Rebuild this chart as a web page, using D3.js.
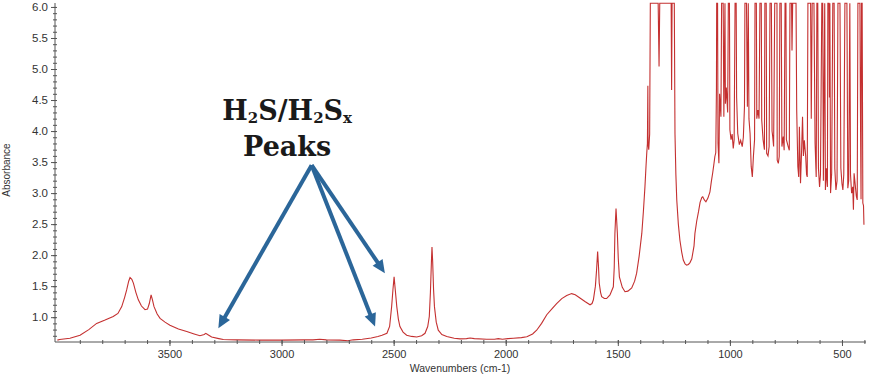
<!DOCTYPE html>
<html>
<head>
<meta charset="utf-8">
<script src="https://cdn.jsdelivr.net/npm/d3@7"></script>
<style>
  html, body { margin: 0; padding: 0; background: #fff; }
  svg { display: block; }
</style>
</head>
<body>
<svg id="chart" width="878" height="376"></svg>
<script>
// ---- data ----
const wavenumbers = [
  4000, 3990, 3944, 3899, 3860, 3825, 3790, 3751, 3730, 3713, 3700, 3691, 3682, 3676, 3668, 3661,
  3650, 3639, 3625, 3609, 3598, 3590, 3582, 3576, 3569, 3555, 3542, 3520, 3498, 3460, 3423, 3390,
  3364, 3345, 3338, 3330, 3312, 3280, 3260, 3200, 3100, 3000, 2900, 2860, 2830, 2800, 2740, 2704,
  2680, 2640, 2600, 2570, 2552, 2530, 2518, 2509, 2503, 2498, 2493, 2486, 2479, 2472, 2458, 2442,
  2420, 2397, 2375, 2360, 2348, 2341, 2336, 2331, 2329, 2326, 2322, 2318, 2310, 2301, 2285, 2263,
  2230, 2204, 2175, 2159, 2140, 2085, 2050, 2033, 2015, 1990, 1966, 1930, 1906, 1880, 1862, 1840,
  1817, 1795, 1773, 1750, 1728, 1706, 1690, 1669, 1645, 1624, 1615, 1609, 1600, 1595, 1590, 1586,
  1583, 1577, 1572, 1560, 1550, 1535, 1520, 1516, 1513, 1510, 1508, 1505, 1502, 1498, 1493, 1480,
  1468, 1455, 1438, 1425, 1416, 1405, 1393, 1386, 1379, 1374, 1371, 1368, 1366, 1365, 1362, 1358,
  1355, 1349, 1320, 1316, 1313, 1262, 1260, 1258, 1248, 1245, 1241, 1237, 1230, 1223, 1215, 1208,
  1200, 1193, 1185, 1178, 1170, 1160, 1156, 1148, 1140, 1133, 1125, 1121, 1114, 1107, 1098, 1089,
  1083, 1077, 1072, 1067, 1063, 1060, 1059, 1055, 1053, 1049, 1046, 1040, 1037, 1030, 1027, 1022,
  1020, 1016, 1010, 1007, 1002, 1000, 995, 990, 985, 981, 977, 972, 970, 965, 958, 952,
  945, 940, 935, 933, 926, 922, 918, 915, 910, 905, 900, 895, 890, 888, 882, 880,
  875, 870, 866, 860, 858, 852, 846, 844, 838, 836, 830, 825, 821, 815, 812, 809,
  805, 800, 790, 789, 784, 780, 777, 771, 768, 762, 758, 754, 750, 748, 740, 735,
  732, 725, 723, 720, 705, 702, 697, 693, 690, 685, 680, 676, 672, 668, 662, 658,
  655, 652, 640, 637, 633, 625, 620, 615, 612, 608, 605, 600, 596, 590, 586, 583,
  577, 574, 570, 565, 563, 558, 556, 554, 551, 546, 541, 535, 532, 527, 522, 518,
  509, 505, 500, 496, 492, 487, 478, 474, 470, 465, 462, 457, 452, 449, 446, 440,
  436, 432, 429, 420, 418, 415, 413, 410, 407, 404, 402
];
const absorbance = [
  0.63, 0.64, 0.66, 0.71, 0.80, 0.90, 0.95, 1.01, 1.06, 1.17, 1.32, 1.44, 1.58, 1.64, 1.61, 1.55,
  1.40, 1.28, 1.18, 1.12, 1.13, 1.22, 1.36, 1.28, 1.17, 1.05, 0.98, 0.92, 0.87, 0.81, 0.77, 0.73,
  0.70, 0.72, 0.74, 0.72, 0.68, 0.655, 0.64, 0.635, 0.63, 0.63, 0.635, 0.635, 0.645, 0.635, 0.63, 0.62,
  0.635, 0.645, 0.665, 0.69, 0.71, 0.74, 0.85, 1.17, 1.45, 1.65, 1.45, 1.17, 0.97, 0.85, 0.76, 0.71,
  0.69, 0.68, 0.70, 0.74, 0.85, 1.01, 1.40, 1.95, 2.13, 1.90, 1.45, 1.17, 0.92, 0.79, 0.72, 0.69,
  0.66, 0.65, 0.655, 0.665, 0.655, 0.645, 0.645, 0.655, 0.645, 0.655, 0.66, 0.67, 0.685, 0.73, 0.79, 0.90,
  1.04, 1.13, 1.22, 1.30, 1.35, 1.38, 1.36, 1.31, 1.25, 1.20, 1.22, 1.28, 1.50, 1.75, 2.06, 1.80,
  1.55, 1.40, 1.33, 1.30, 1.30, 1.36, 1.49, 1.80, 2.35, 2.60, 2.75, 2.55, 2.35, 1.95, 1.65, 1.48,
  1.41, 1.42, 1.47, 1.58, 1.71, 1.98, 2.35, 2.70, 3.10, 3.45, 3.64, 3.80, 4.73, 3.80, 3.70, 3.95,
  6.06, 6.06, 6.06, 5.04, 6.06, 6.06, 4.66, 6.06, 6.06, 3.96, 3.30, 2.89, 2.50, 2.24, 2.05, 1.92,
  1.86, 1.84, 1.85, 1.88, 1.94, 2.15, 2.35, 2.55, 2.70, 2.85, 2.93, 2.94, 2.89, 2.86, 2.92, 3.02,
  3.18, 3.32, 3.45, 3.59, 3.65, 4.70, 6.06, 6.06, 3.80, 3.48, 4.60, 4.23, 6.06, 6.06, 4.23, 6.06,
  4.44, 4.70, 4.30, 6.06, 6.06, 4.02, 3.86, 3.95, 3.72, 3.86, 6.06, 6.06, 4.54, 3.96, 3.78, 3.85,
  3.75, 3.90, 4.39, 6.06, 6.06, 4.39, 6.06, 4.20, 3.96, 3.43, 3.26, 3.60, 3.86, 6.06, 6.06, 4.20,
  4.34, 4.20, 6.06, 6.06, 4.18, 3.86, 3.70, 6.06, 6.06, 3.64, 3.60, 3.75, 6.06, 6.06, 4.00, 3.91,
  3.75, 6.06, 6.06, 3.53, 3.48, 3.59, 6.06, 6.06, 3.75, 3.91, 3.69, 6.06, 6.06, 3.86, 3.75, 3.69,
  6.06, 6.06, 5.30, 6.06, 6.06, 4.34, 3.43, 3.26, 4.07, 3.16, 3.70, 4.23, 3.60, 3.85, 3.60, 3.30,
  3.26, 6.06, 6.06, 4.20, 6.06, 6.06, 3.80, 3.26, 6.06, 6.06, 3.40, 3.10, 3.30, 6.06, 6.06, 3.20,
  6.06, 3.05, 3.40, 3.10, 6.06, 6.06, 4.54, 6.06, 3.00, 3.32, 6.06, 6.06, 3.40, 3.05, 3.20, 6.06,
  6.06, 3.40, 3.15, 3.05, 3.30, 6.06, 6.06, 3.08, 3.20, 6.06, 3.30, 3.00, 3.10, 2.73, 3.32, 3.10,
  2.95, 2.89, 6.06, 6.06, 4.50, 2.90, 6.06, 6.06, 2.84, 2.80, 2.49
];
const xMajorTicks = [3500, 3000, 2500, 2000, 1500, 1000, 500];
const xMinorTicks = d3.range(3900, 399, -100);
const yMajorTicks = [1.0, 1.5, 2.0, 2.5, 3.0, 3.5, 4.0, 4.5, 5.0, 5.5, 6.0];
const yMinorTicks = d3.range(7, 61).map(d => d / 10);
const xTitle = "Wavenumbers (cm-1)";
const yTitle = "Absorbance";
// annotation anchors, in data units
const annoOrigin = [2866, 3.45];
const annoTargets = [[3282, 0.82], [2583, 0.85], [2539, 1.71]];

// ---- drawing ----
const svg = d3.select("#chart");
const x = d3.scaleLinear().domain([4000, 400]).range([57.4, 864.4]);
const y = d3.scaleLinear().domain([0.6, 6.08]).range([342, 2]);
const axisX0 = 55;   // y-axis position
const axisColor = "#555";
const labelFont = "'Liberation Sans', Arial, sans-serif";

// spectrum
const pts = wavenumbers.map((w, i) => [w, absorbance[i]]);
svg.append("path")
  .datum(pts)
  .attr("fill", "none")
  .attr("stroke", "#c43030")
  .attr("stroke-width", 1.1)
  .attr("stroke-linejoin", "miter")
  .attr("d", d3.line().x(d => x(d[0])).y(d => y(d[1])));

// x axis
const gx = svg.append("g").attr("transform", "translate(0,342)");
gx.append("line").attr("x1", axisX0).attr("x2", 866).attr("y1", 0).attr("y2", 0)
  .attr("stroke", axisColor).attr("stroke-width", 1);
const gxMinor = gx.append("g")
  .call(d3.axisBottom(x).tickValues(xMinorTicks).tickSize(2).tickFormat(""));
gxMinor.select(".domain").remove();
gxMinor.selectAll(".tick line").attr("y1", -2).attr("y2", 2).attr("stroke", axisColor);
const gxMajor = gx.append("g")
  .call(d3.axisBottom(x).tickValues(xMajorTicks).tickSize(4).tickPadding(4).tickFormat(d3.format("d")));
gxMajor.select(".domain").remove();
gxMajor.selectAll(".tick line").attr("y1", -2).attr("stroke", axisColor);
gxMajor.selectAll(".tick text")
  .attr("font-family", labelFont).attr("font-size", 11).attr("fill", "#333");

// y axis
const gy = svg.append("g").attr("transform", `translate(${axisX0},0)`);
gy.append("line").attr("x1", 0).attr("x2", 0).attr("y1", 3).attr("y2", 342)
  .attr("stroke", axisColor).attr("stroke-width", 1);
const gyMinor = gy.append("g")
  .call(d3.axisLeft(y).tickValues(yMinorTicks).tickSize(2).tickFormat(""));
gyMinor.select(".domain").remove();
gyMinor.selectAll(".tick line").attr("x1", 2).attr("x2", -2).attr("stroke", axisColor);
const gyMajor = gy.append("g")
  .call(d3.axisLeft(y).tickValues(yMajorTicks).tickSize(4).tickPadding(3).tickFormat(d3.format(".1f")));
gyMajor.select(".domain").remove();
gyMajor.selectAll(".tick line").attr("x1", 1).attr("stroke", axisColor);
gyMajor.selectAll(".tick text")
  .attr("font-family", labelFont).attr("font-size", 11.5).attr("fill", "#333");

// axis titles
svg.append("text")
  .attr("x", 460).attr("y", 372)
  .attr("text-anchor", "middle")
  .attr("font-family", labelFont).attr("font-size", 10.5).attr("fill", "#333")
  .text(xTitle);
svg.append("text")
  .attr("transform", "translate(10,170) rotate(-90)")
  .attr("text-anchor", "middle")
  .attr("font-family", labelFont).attr("font-size", 10).attr("fill", "#333")
  .text(yTitle);

// annotation arrows
const arrowColor = "#2b6699";
annoTargets.forEach(t => {
  const x0 = x(annoOrigin[0]), y0 = y(annoOrigin[1]);
  const x1 = x(t[0]), y1 = y(t[1]);
  const dx = x1 - x0, dy = y1 - y0, L = Math.hypot(dx, dy);
  const ux = dx / L, uy = dy / L, px = -uy, py = ux;
  const sx = x1 - ux * 6, sy = y1 - uy * 6;
  svg.append("line")
    .attr("x1", x0).attr("y1", y0).attr("x2", sx).attr("y2", sy)
    .attr("stroke", arrowColor).attr("stroke-width", 4).attr("stroke-linecap", "butt");
  const bx = x1 - ux * 13, by = y1 - uy * 13;
  svg.append("path")
    .attr("d", `M${x1},${y1} L${bx + px * 6},${by + py * 6} L${bx - px * 6},${by - py * 6} Z`)
    .attr("fill", arrowColor);
});

// annotation text
const serif = "'DejaVu Serif', 'Liberation Serif', serif";
const t1 = svg.append("text")
  .attr("x", x(2975)).attr("y", 120)
  .attr("text-anchor", "middle")
  .attr("font-family", serif).attr("font-weight", "bold").attr("font-size", 27)
  .attr("fill", "#1a1a1a");
t1.append("tspan").text("H");
t1.append("tspan").attr("font-size", 15).attr("dy", 3).text("2");
t1.append("tspan").attr("dy", -3).text("S/H");
t1.append("tspan").attr("font-size", 15).attr("dy", 3).text("2");
t1.append("tspan").attr("dy", -3).text("S");
t1.append("tspan").attr("font-size", 15).attr("dy", 3).text("x");
svg.append("text")
  .attr("x", x(2975)).attr("y", 156)
  .attr("text-anchor", "middle")
  .attr("font-family", serif).attr("font-weight", "bold").attr("font-size", 27)
  .attr("fill", "#1a1a1a")
  .text("Peaks");
</script>
</body>
</html>
